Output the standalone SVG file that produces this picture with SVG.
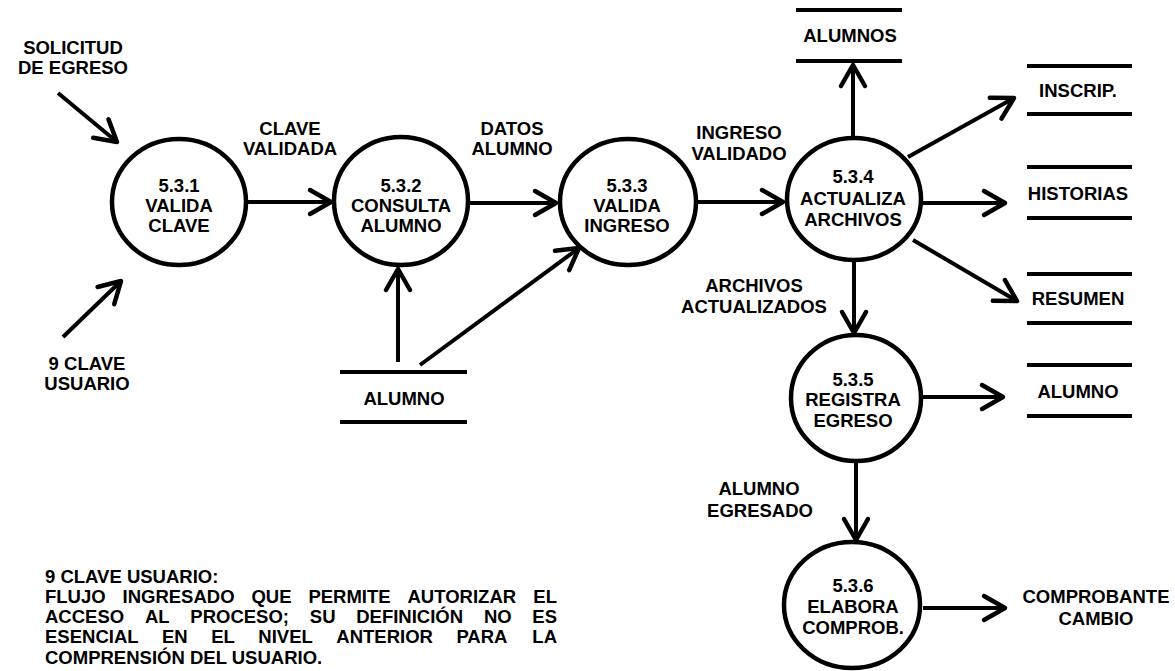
<svg xmlns="http://www.w3.org/2000/svg" width="1175" height="671" viewBox="0 0 1175 671">
<style>
text{font-family:"Liberation Sans",Arial,sans-serif;font-weight:bold;font-size:18.5px;fill:#000}
.c{text-anchor:middle}
.e{text-anchor:end}
.proc{fill:none;stroke:#000;stroke-width:4.5}
.store{stroke:#000;stroke-width:4}
.flow{fill:none;stroke:#000;stroke-width:4;marker-end:url(#ah)}
</style>
<defs>
<marker id="ah" markerUnits="userSpaceOnUse" orient="auto" refX="0" refY="0" markerWidth="30" markerHeight="30" overflow="visible">
<path d="M-21,-12 L0,0 L-21,12" fill="none" stroke="#000" stroke-width="4.5" stroke-linejoin="round" stroke-linecap="round"/>
</marker>
</defs>
<rect width="1175" height="671" fill="#fff"/>

<g id="ext-solicitud">
<text class="c" x="73" y="54">SOLICITUD</text>
<text class="c" x="73" y="74">DE EGRESO</text>
</g>
<g id="ext-clave-usuario">
<text class="c" x="87" y="370">9 CLAVE</text>
<text class="c" x="87" y="390">USUARIO</text>
</g>

<g id="p531">
<ellipse class="proc" cx="179" cy="202" rx="67" ry="63"/>
<text class="c" x="179" y="192">5.3.1</text>
<text class="c" x="179" y="212">VALIDA</text>
<text class="c" x="179" y="232">CLAVE</text>
</g>
<g id="p532">
<ellipse class="proc" cx="401" cy="201" rx="67" ry="64"/>
<text class="c" x="401" y="192">5.3.2</text>
<text class="c" x="401" y="212">CONSULTA</text>
<text class="c" x="401" y="232">ALUMNO</text>
</g>
<g id="p533">
<ellipse class="proc" cx="628" cy="202" rx="68" ry="63"/>
<text class="c" x="627" y="192">5.3.3</text>
<text class="c" x="627" y="212">VALIDA</text>
<text class="c" x="627" y="232">INGRESO</text>
</g>
<g id="p534">
<ellipse class="proc" cx="854" cy="199" rx="67" ry="61"/>
<text class="c" x="853" y="183">5.3.4</text>
<text class="c" x="853" y="205">ACTUALIZA</text>
<text class="c" x="853" y="226">ARCHIVOS</text>
</g>
<g id="p535">
<ellipse class="proc" cx="856" cy="398" rx="65" ry="63"/>
<text class="c" x="853" y="386">5.3.5</text>
<text class="c" x="853" y="406">REGISTRA</text>
<text class="c" x="853" y="427">EGRESO</text>
</g>
<g id="p536">
<ellipse class="proc" cx="852" cy="605" rx="68" ry="63"/>
<text class="c" x="853" y="592">5.3.6</text>
<text class="c" x="853" y="613">ELABORA</text>
<text class="c" x="853" y="634">COMPROB.</text>
</g>

<g id="ds-alumno-mid">
<line class="store" x1="340" y1="372" x2="467" y2="372"/>
<line class="store" x1="340" y1="422" x2="467" y2="422"/>
<text class="c" x="404" y="405">ALUMNO</text>
</g>
<g id="ds-alumnos">
<line class="store" x1="796" y1="10" x2="902" y2="10"/>
<line class="store" x1="796" y1="61" x2="902" y2="61"/>
<text class="c" x="850" y="42">ALUMNOS</text>
</g>
<g id="ds-inscrip">
<line class="store" x1="1027" y1="66" x2="1132" y2="66"/>
<line class="store" x1="1027" y1="114" x2="1132" y2="114"/>
<text class="c" x="1078" y="97">INSCRIP.</text>
</g>
<g id="ds-historias">
<line class="store" x1="1027" y1="167" x2="1132" y2="167"/>
<line class="store" x1="1027" y1="218" x2="1132" y2="218"/>
<text class="c" x="1078" y="200">HISTORIAS</text>
</g>
<g id="ds-resumen">
<line class="store" x1="1027" y1="274" x2="1132" y2="274"/>
<line class="store" x1="1027" y1="323" x2="1132" y2="323"/>
<text class="c" x="1078" y="305">RESUMEN</text>
</g>
<g id="ds-alumno-right">
<line class="store" x1="1027" y1="365" x2="1132" y2="365"/>
<line class="store" x1="1027" y1="416" x2="1132" y2="416"/>
<text class="c" x="1078" y="398">ALUMNO</text>
</g>
<g id="ext-comprobante">
<text class="c" x="1096" y="603">COMPROBANTE</text>
<text class="c" x="1096" y="625">CAMBIO</text>
</g>

<g id="connectors">
<line class="flow" x1="58" y1="93" x2="117" y2="142"/>
<line class="flow" x1="63" y1="337" x2="121" y2="281"/>
<line class="flow" x1="248" y1="202" x2="331" y2="202"/>
<line class="flow" x1="470" y1="203" x2="556" y2="203"/>
<line class="flow" x1="398" y1="362" x2="398" y2="269"/>
<line class="flow" x1="420" y1="365" x2="579" y2="248"/>
<line class="flow" x1="698" y1="202" x2="783" y2="202"/>
<line class="flow" x1="853" y1="138" x2="853" y2="65"/>
<line class="flow" x1="908" y1="157" x2="1014" y2="98"/>
<line class="flow" x1="923" y1="203" x2="1005" y2="203"/>
<line class="flow" x1="913" y1="240" x2="1017" y2="301"/>
<line class="flow" x1="854" y1="261" x2="854" y2="333"/>
<line class="flow" x1="923" y1="397" x2="1003" y2="397"/>
<line class="flow" x1="856" y1="462" x2="856" y2="540"/>
<line class="flow" x1="923" y1="608" x2="1005" y2="608"/>
<text class="c" x="290" y="135">CLAVE</text>
<text class="c" x="290" y="155">VALIDADA</text>
<text class="c" x="512" y="135">DATOS</text>
<text class="c" x="512" y="155">ALUMNO</text>
<text class="c" x="739" y="139">INGRESO</text>
<text class="c" x="739" y="160">VALIDADO</text>
<text class="c" x="754" y="292">ARCHIVOS</text>
<text class="c" x="754" y="313">ACTUALIZADOS</text>
<text class="c" x="759" y="495">ALUMNO</text>
<text class="c" x="760" y="517">EGRESADO</text>
</g>

<g id="note">
<text x="45" y="583">9 CLAVE USUARIO:</text>
<text x="45" y="603">FLUJO</text>
<text x="122.5" y="603">INGRESADO</text>
<text x="251.4" y="603">QUE</text>
<text x="308.4" y="603">PERMITE</text>
<text x="407.5" y="603">AUTORIZAR</text>
<text class="e" x="557" y="603">EL</text>
<text x="45" y="623">ACCESO</text>
<text x="144.9" y="623">AL</text>
<text x="190.3" y="623">PROCESO;</text>
<text x="309.8" y="623">SU</text>
<text x="356.2" y="623">DEFINICIÓN</text>
<text x="483.9" y="623">NO</text>
<text class="e" x="557" y="623">ES</text>
<text x="45" y="643">ESENCIAL</text>
<text x="162" y="643">EN</text>
<text x="211.2" y="643">EL</text>
<text x="258.3" y="643">NIVEL</text>
<text x="336.3" y="643">ANTERIOR</text>
<text x="456.4" y="643">PARA</text>
<text class="e" x="557" y="643">LA</text>
<text x="45" y="664">COMPRENSIÓN DEL USUARIO.</text>
</g>
</svg>
